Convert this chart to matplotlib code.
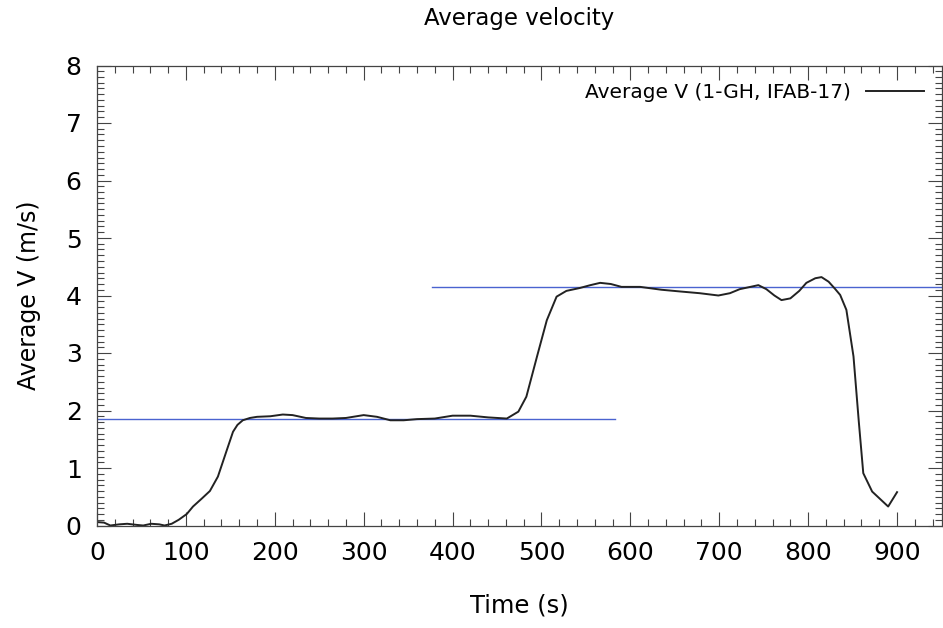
import matplotlib
matplotlib.use("Agg")
import matplotlib.pyplot as plt
from matplotlib.ticker import MultipleLocator

# Data
time_s = [0, 8, 15, 25, 34, 45, 52, 61, 70, 76, 84, 92, 101, 108, 118, 127, 136, 146,
          153, 158, 164, 172, 180, 195, 209, 220, 235, 250, 265, 280, 300, 315, 330, 345, 360,
          380, 400, 420, 440, 461, 474, 483, 495, 506, 517, 528, 543, 555, 566, 578,
          590, 611, 635, 656, 678, 699, 712, 723, 744, 753, 762, 770, 780, 790, 798,
          808, 815, 823, 830, 836, 843, 851, 857, 862, 872, 890, 900]
avg_v = [0.06, 0.05, 0.0, 0.02, 0.03, 0.01, 0.0, 0.03, 0.02, 0.0, 0.03, 0.1, 0.2, 0.33,
         0.47, 0.6, 0.85, 1.31, 1.63, 1.75, 1.83, 1.87, 1.89, 1.9, 1.93, 1.92, 1.87, 1.86, 1.86, 1.87,
         1.92, 1.89, 1.83, 1.83, 1.85, 1.86, 1.91, 1.91, 1.88, 1.86, 1.98, 2.24, 2.94,
         3.57, 3.98, 4.08, 4.13, 4.18, 4.22, 4.2, 4.15, 4.15, 4.1, 4.07, 4.04, 4.0, 4.04,
         4.11, 4.18, 4.11, 4.0, 3.92, 3.95, 4.08, 4.22, 4.3, 4.32, 4.24, 4.12, 4.01,
         3.75, 2.94, 1.8, 0.91, 0.59, 0.33, 0.58]

ref1_t = [0, 583]
ref1_v = [1.85, 1.85]
ref2_t = [377, 950]
ref2_v = [4.14, 4.14]

x_ticks = [0, 100, 200, 300, 400, 500, 600, 700, 800, 900]
y_ticks = [0, 1, 2, 3, 4, 5, 6, 7, 8]

fig = plt.figure(figsize=(9.43, 6.28), dpi=100)
ax = fig.add_axes([97 / 943, (628 - 525.5) / 628, 844.5 / 943, 460 / 628])

ax.plot(ref1_t, ref1_v, color="#4a63d0", lw=1.0)
ax.plot(ref2_t, ref2_v, color="#4a63d0", lw=1.0)
ax.plot(time_s, avg_v, color="#222222", lw=1.4, label="Average V (1-GH, IFAB-17)")

ax.set_xlim(0, 950)
ax.set_ylim(0, 8)
ax.set_xticks(x_ticks)
ax.set_yticks(y_ticks)
ax.xaxis.set_minor_locator(MultipleLocator(20))
ax.yaxis.set_minor_locator(MultipleLocator(0.1))
ax.tick_params(which="both", direction="in", top=True, right=True, color="#444444", width=0.8)
ax.tick_params(which="major", length=10, labelsize=18, pad=11)
ax.tick_params(which="minor", length=5)
for s in ax.spines.values():
    s.set_color("#444444")
    s.set_linewidth(0.9)

ax.set_xlabel("Time (s)", fontsize=17.5, labelpad=21)
ax.set_ylabel("Average V (m/s)", fontsize=17, labelpad=18)
ax.set_title("Average velocity", fontsize=16.5, pad=29)

leg = ax.legend(loc="upper right", frameon=False, fontsize=14.5, markerfirst=False,
                handlelength=2.9, handletextpad=0.75, borderaxespad=0.45)

fig.savefig("out.png", dpi=100)
